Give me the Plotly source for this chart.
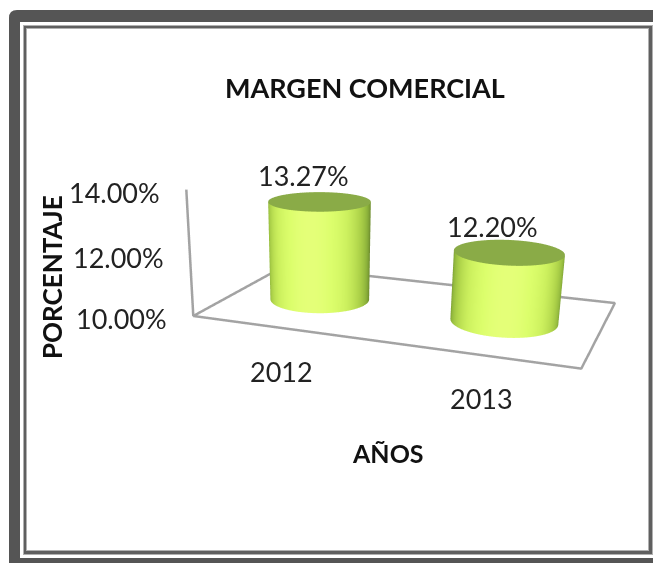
import numpy as np
import plotly.graph_objects as go

W = 653
H = 563
# taller page than the window: gives a longer lens, the part below the window is cut off
PAGE_H = 800

categories = ["2012", "2013"]
values = [13.27, 12.20]
value_labels = ["13.27%", "12.20%"]
tick_values = [10, 12, 14]
tick_labels = ["10.00%", "12.00%", "14.00%"]

z_min = 10
z_max = 14
x_lo, x_hi = -0.4675, 1.4675
y_lo, y_hi = -0.542, 0.542
radius = 0.265
pad = 0.02

FONT = "Lato"


def px(x):
    return x / W


def py(y):
    return 1 - y / PAGE_H


def cylinder(x0, top):
    t = np.linspace(0, 2 * np.pi, 121)
    zz = np.array([z_min, top])
    T, Z = np.meshgrid(t, zz)
    shade = np.clip(np.cos(T - np.radians(-77)), 0, 1)
    side = go.Surface(
        x=x0 + radius * np.cos(T),
        y=radius * np.sin(T),
        z=Z,
        surfacecolor=shade,
        cmin=0, cmax=1,
        colorscale=[[0, "#6e8e2e"], [0.25, "#8fb53c"], [0.5, "#aed34a"], [0.75, "#ccf05e"],
                    [0.92, "#dcfe6c"], [1, "#e4ff78"]],
        showscale=False,
        hoverinfo="skip",
        lighting=dict(ambient=1, diffuse=0, specular=0, fresnel=0),
    )
    r = np.array([0, radius])
    T2, R2 = np.meshgrid(t, r)
    cap = go.Surface(
        x=x0 + R2 * np.cos(T2),
        y=R2 * np.sin(T2),
        z=np.full_like(T2, top),
        surfacecolor=np.zeros_like(T2),
        cmin=0, cmax=1,
        colorscale=[[0, "#8aab47"], [1, "#8aab47"]],
        showscale=False,
        hoverinfo="skip",
        lighting=dict(ambient=1, diffuse=0, specular=0, fresnel=0),
    )
    return [side, cap]


fig = go.Figure()

# floor outline and value axis
fig.add_trace(go.Scatter3d(
    x=[x_lo, x_hi, x_hi, x_lo, x_lo, x_lo],
    y=[y_lo, y_lo, y_hi, y_hi, y_lo, y_lo],
    z=[z_min, z_min, z_min, z_min, z_min, z_max],
    mode="lines",
    line=dict(color="#a3a3a3", width=5),
    hoverinfo="skip",
    showlegend=False,
))

for i, v in enumerate(values):
    for tr in cylinder(i, v):
        fig.add_trace(tr)

annots = []
for t, lab in zip(tick_values, tick_labels):
    annots.append(dict(x=x_lo, y=y_lo, z=t, text=lab, showarrow=False, xanchor="right",
                       xshift=-24, yshift=-3, font=dict(family=FONT, size=27, color="#222222")))
for i, lab in enumerate(categories):
    annots.append(dict(x=i, y=y_lo, z=z_min, text=lab, showarrow=False, xshift=5, yshift=-44,
                       font=dict(family=FONT, size=27, color="#222222")))
for i, (v, lab) in enumerate(zip(values, value_labels)):
    annots.append(dict(x=i, y=0, z=v, text=lab, showarrow=False, xshift=-16, yshift=26,
                       font=dict(family=FONT, size=27, color="#222222")))


def box(x0, y0, x1, y1, color):
    return dict(type="rect", xref="paper", yref="paper", x0=px(x0), x1=px(x1), y0=py(y0), y1=py(y1),
                fillcolor=color, line_width=0, layer="below")


# outer band with its rounded corner
r = 8
outer = dict(
    type="path", xref="paper", yref="paper", layer="below", fillcolor="#555555", line_width=0,
    path=f"M {px(9)} {py(H)} L {px(9)} {py(10 + r)} Q {px(9)} {py(10)} {px(9 + r)} {py(10)} "
         f"L {px(W)} {py(10)} L {px(W)} {py(H)} Z",
)

frame = [
    outer,
    box(20, 22, W, 558, "#ffffff"),
    box(23, 25, W, 555, "#b0b0b0"),
    box(24, 26, 652, 554, "#5f5f5f"),
    box(26, 28, 649, 551, "#b0b0b0"),
    box(27, 29, 648, 550, "#ffffff"),
]

fig.update_layout(
    width=W,
    height=PAGE_H,
    margin=dict(l=0, r=0, t=0, b=0),
    paper_bgcolor="white",
    showlegend=False,
    shapes=frame,
    scene=dict(
        domain=dict(x=[0, 1], y=[0, 1]),
        xaxis=dict(visible=False, range=[x_lo - pad, x_hi + pad]),
        yaxis=dict(visible=False, range=[y_lo - pad, y_hi + pad]),
        zaxis=dict(visible=False, range=[z_min - pad, z_max + pad]),
        aspectmode="manual",
        aspectratio=dict(x=1, y=0.56, z=0.325),
        camera=dict(
            eye=dict(x=0.7509, y=-2.3188, z=0.5878),
            center=dict(x=-0.1624, y=-0.167, z=-0.3804),
            up=dict(x=0, y=0, z=1),
        ),
        annotations=annots,
    ),
    annotations=[
        dict(xref="paper", yref="paper", x=px(365), y=py(87), xanchor="center", yanchor="middle",
             text="<b>MARGEN COMERCIAL</b>", showarrow=False,
             font=dict(family=FONT, size=27, color="#111111")),
        dict(xref="paper", yref="paper", x=px(388), y=py(453), xanchor="center", yanchor="middle",
             text="<b>AÑOS</b>", showarrow=False,
             font=dict(family=FONT, size=25, color="#111111")),
        dict(xref="paper", yref="paper", x=px(52), y=py(277), xanchor="center", yanchor="middle",
             text="<b>PORCENTAJE</b>", showarrow=False,
             textangle=-90, font=dict(family=FONT, size=26, color="#111111")),
    ],
)

fig.write_html(
    "out.html",
    config={"displayModeBar": False},
    post_script="document.body.style.margin='0';document.documentElement.style.overflow='hidden';",
)
